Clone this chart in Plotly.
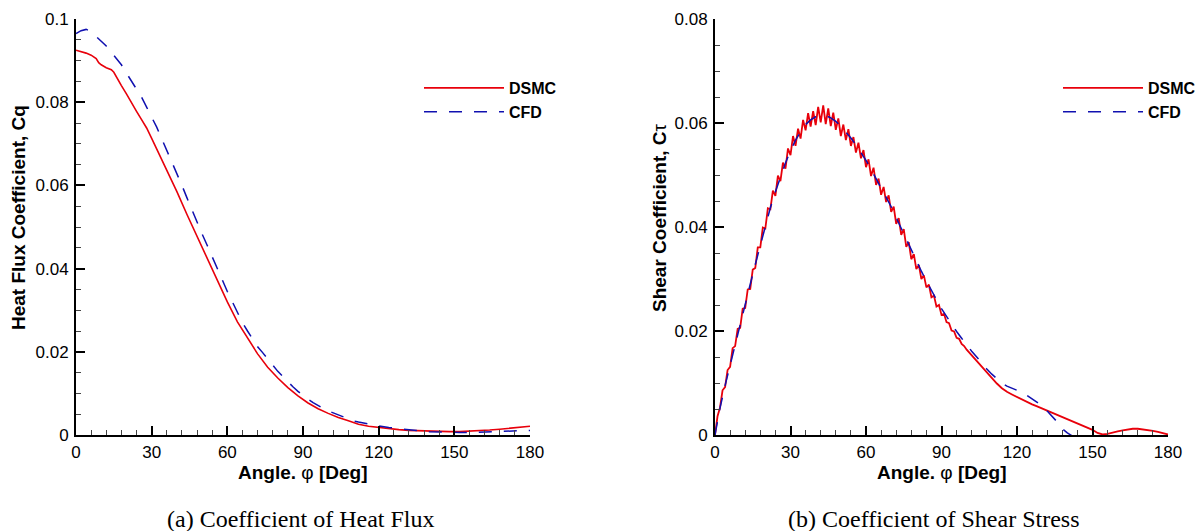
import plotly.graph_objects as go

# ---------------- Data: heat flux (left) ----------------
hf_dsmc_angle = [0, 2, 4, 6, 8, 9, 10, 12, 14, 15, 16, 18, 20, 22, 24, 26, 28, 30, 32, 34,
                 36, 40, 44, 48, 52, 56, 60, 64, 68, 72, 76, 80, 84, 88, 92, 96, 100, 104,
                 108, 112, 116, 120, 124, 128, 132, 136, 140, 144, 148, 152, 156, 160, 164,
                 168, 172, 176, 180]
hf_dsmc = [0.0925, 0.0922, 0.0918, 0.0913, 0.0905, 0.0895, 0.0890, 0.0883, 0.0878, 0.0872,
           0.0860, 0.0840, 0.0820, 0.0798, 0.0778, 0.0758, 0.0738, 0.0713, 0.0688, 0.0663,
           0.0637, 0.0585, 0.0530, 0.0478, 0.0425, 0.0370, 0.0320, 0.0272, 0.0232, 0.0195,
           0.0163, 0.0137, 0.0114, 0.0094, 0.0077, 0.0063, 0.0052, 0.0042, 0.0034, 0.0026,
           0.0021, 0.0018, 0.0015, 0.0013, 0.0011, 0.0010, 0.0009, 0.0009, 0.0008, 0.0008,
           0.0009, 0.0010, 0.0012, 0.0014, 0.0016, 0.0018, 0.0021]

hf_cfd_angle = [0, 2, 4, 6, 8, 10, 12, 14, 16, 18, 20, 22, 24, 26, 28, 30, 32, 34, 36, 38,
                40, 42, 44, 46, 48, 50, 52, 54, 56, 58, 60, 62, 64, 66, 68, 70, 72, 74, 76,
                78, 80, 82, 84, 86, 88, 90, 92, 94, 96, 98, 100, 102, 104, 106, 108, 110,
                112, 116, 120, 124, 128, 132, 136, 140, 144, 148, 152, 156, 160, 164, 168,
                172, 176, 180]
hf_cfd = [0.0965, 0.0972, 0.0975, 0.0970, 0.0958, 0.0946, 0.0935, 0.0920, 0.0905, 0.0890,
          0.0870, 0.0850, 0.0830, 0.0812, 0.0788, 0.0765, 0.0740, 0.0712, 0.0685, 0.0657,
          0.0630, 0.0600, 0.0570, 0.0540, 0.0512, 0.0483, 0.0456, 0.0428, 0.0398, 0.0371,
          0.0345, 0.0320, 0.0295, 0.0270, 0.0250, 0.0230, 0.0212, 0.0198, 0.0182, 0.0168,
          0.0153, 0.0140, 0.0128, 0.0116, 0.0105, 0.0095, 0.0086, 0.0078, 0.0070, 0.0064,
          0.0058, 0.0053, 0.0048, 0.0043, 0.0038, 0.0034, 0.0031, 0.0026, 0.0022, 0.0018,
          0.0015, 0.0012, 0.0010, 0.0008, 0.0007, 0.0006, 0.0006, 0.0006, 0.0007, 0.0007,
          0.0008, 0.0009, 0.0010, 0.0011]

# ---------------- Data: shear stress (right) ----------------
ss_dsmc_angle = list(range(0, 101)) + [102, 104, 106, 108, 110, 112, 114, 116, 118, 120,
                                       122, 124, 126, 128, 130, 132, 134, 136, 138, 140,
                                       142, 144, 146, 148, 150, 152, 154, 156, 158, 160,
                                       162, 164, 166, 168, 170, 172, 174, 176, 178, 180]
ss_dsmc = [0.0000, 0.0036, 0.0053, 0.0086, 0.0092, 0.0125, 0.0131, 0.0167, 0.0171, 0.0204,
           0.0206, 0.0243, 0.0244, 0.0280, 0.0281, 0.0318, 0.0321, 0.0361, 0.0361, 0.0399,
           0.0397, 0.0436, 0.0434, 0.0470, 0.0460, 0.0499, 0.0488, 0.0524, 0.0512, 0.0551,
           0.0538, 0.0575, 0.0556, 0.0589, 0.0570, 0.0606, 0.0586, 0.0619, 0.0593, 0.0623,
           0.0596, 0.0631, 0.0601, 0.0634, 0.0598, 0.0628, 0.0594, 0.0620, 0.0587, 0.0609,
           0.0575, 0.0597, 0.0567, 0.0588, 0.0556, 0.0573, 0.0543, 0.0562, 0.0532, 0.0548,
           0.0515, 0.0530, 0.0498, 0.0514, 0.0481, 0.0493, 0.0462, 0.0477, 0.0448, 0.0461,
           0.0429, 0.0439, 0.0406, 0.0417, 0.0385, 0.0396, 0.0362, 0.0371, 0.0338, 0.0348,
           0.0319, 0.0327, 0.0300, 0.0307, 0.0284, 0.0289, 0.0265, 0.0268, 0.0247, 0.0250,
           0.0231, 0.0233, 0.0217, 0.0215, 0.0201, 0.0199, 0.0187, 0.0185, 0.0175, 0.0171,
           0.0164,
           0.0153, 0.0143, 0.0132, 0.0121, 0.0110, 0.0099, 0.0090, 0.0083, 0.0078, 0.0073,
           0.0068, 0.0063, 0.0059, 0.0055, 0.0051, 0.0046, 0.0042, 0.0038, 0.0035, 0.0031,
           0.0027, 0.0023, 0.0019, 0.0014, 0.0010, 0.0004, 0.0001, 0.0002, 0.0005, 0.0007,
           0.0009, 0.0011, 0.0012, 0.0012, 0.0011, 0.0010, 0.0008, 0.0006, 0.0003, 0.0001]

ss_cfd_angle = [0, 2, 4, 6, 8, 10, 12, 14, 16, 18, 20, 22, 24, 26, 28, 30, 32, 34, 36, 38,
                40, 42, 44, 46, 48, 50, 52, 54, 56, 58, 60, 62, 64, 66, 68, 70, 72, 74, 76,
                78, 80, 82, 84, 86, 88, 90, 92, 94, 96, 98, 100, 102, 104, 106, 108, 110,
                112, 114, 116, 118, 120, 122, 124, 126, 128, 130, 132, 134, 136, 138, 140,
                142]
ss_cfd = [0.0000, 0.0052, 0.0095, 0.0135, 0.0176, 0.0215, 0.0253, 0.0290, 0.0328, 0.0366,
          0.0403, 0.0437, 0.0468, 0.0497, 0.0523, 0.0547, 0.0567, 0.0583, 0.0597, 0.0606,
          0.0612, 0.0615, 0.0614, 0.0610, 0.0603, 0.0594, 0.0583, 0.0571, 0.0558, 0.0544,
          0.0528, 0.0511, 0.0493, 0.0475, 0.0457, 0.0439, 0.0418, 0.0397, 0.0376, 0.0355,
          0.0335, 0.0315, 0.0296, 0.0278, 0.0260, 0.0243, 0.0228, 0.0213, 0.0199, 0.0186,
          0.0173, 0.0161, 0.0150, 0.0138, 0.0127, 0.0117, 0.0108, 0.0100, 0.0094, 0.0090,
          0.0087, 0.0082, 0.0076, 0.0069, 0.0062, 0.0056, 0.0046, 0.0036, 0.0025, 0.0012,
          0.0004, -0.0002]

x_ticks = [0, 30, 60, 90, 120, 150, 180]
series_names = ["DSMC", "CFD"]
captions = ["(a) Coefficient of Heat Flux", "(b) Coefficient of Shear Stress"]
x_title = "<b>Angle. </b>φ<b> [Deg]</b>"
y_titles = ["<b>Heat Flux Coefficient, Cq</b>", "<b>Shear Coefficient, C</b>τ"]

RED = "#e8000b"
BLUE = "#1010b0"
SANS = "Liberation Sans, Arial, Helvetica, sans-serif"
SERIF = "Liberation Serif, Times New Roman, serif"
W, H = 1201, 531

fig = go.Figure()
fig.add_trace(go.Scatter(x=hf_dsmc_angle, y=hf_dsmc, mode="lines", name=series_names[0],
                         line=dict(color=RED, width=1.6), xaxis="x", yaxis="y", legend="legend"))
fig.add_trace(go.Scatter(x=hf_cfd_angle, y=hf_cfd, mode="lines", name=series_names[1],
                         line=dict(color=BLUE, width=1.5, dash="13px,12px"),
                         xaxis="x", yaxis="y", legend="legend"))
fig.add_trace(go.Scatter(x=ss_dsmc_angle, y=ss_dsmc, mode="lines", name=series_names[0],
                         line=dict(color=RED, width=1.8), xaxis="x2", yaxis="y2", legend="legend2"))
fig.add_trace(go.Scatter(x=ss_cfd_angle, y=ss_cfd, mode="lines", name=series_names[1],
                         line=dict(color=BLUE, width=1.5, dash="13px,12px"),
                         xaxis="x2", yaxis="y2", legend="legend2"))

def px_x(p):
    return p / W

def px_y(p):
    return 1 - p / H

axis_common = dict(showgrid=False, zeroline=False, showline=True, linecolor="black",
                   linewidth=2, ticks="inside", ticklen=9, tickwidth=1.5, tickcolor="black",
                   automargin=False,
                   tickfont=dict(family=SANS, size=17, color="black"))
minor_style = dict(ticks="inside", ticklen=5, tickwidth=1, tickcolor="#444")

ydom = [px_y(435), px_y(19)]
fig.update_layout(
    width=W, height=H,
    margin=dict(l=0, r=0, t=0, b=0, pad=0, autoexpand=False),
    paper_bgcolor="white", plot_bgcolor="white",
    xaxis=dict(domain=[px_x(76), px_x(530)], range=[0, 180], tickvals=x_ticks,
               anchor="y", ticklabelstandoff=1,
               minor=dict(dtick=6, **minor_style), **axis_common),
    yaxis=dict(domain=ydom, range=[0, 0.1], dtick=0.02, anchor="x", ticklabelstandoff=2,
               minor=dict(dtick=0.005, **minor_style), **axis_common),
    xaxis2=dict(domain=[px_x(715), px_x(1168)], range=[0, 180], tickvals=x_ticks,
                anchor="y2", ticklabelstandoff=1,
                minor=dict(dtick=6, **minor_style), **axis_common),
    yaxis2=dict(domain=ydom, range=[0, 0.08], dtick=0.02, anchor="x2", ticklabelstandoff=2,
                minor=dict(dtick=0.005, **minor_style), **axis_common),
    legend=dict(x=px_x(419), y=px_y(71), xanchor="left", yanchor="top",
                bgcolor="rgba(0,0,0,0)", itemwidth=80, tracegroupgap=0,
                font=dict(family=SANS, size=16, color="black", weight="bold")),
    legend2=dict(x=px_x(1058), y=px_y(71), xanchor="left", yanchor="top",
                 bgcolor="rgba(0,0,0,0)", itemwidth=80, tracegroupgap=0,
                 font=dict(family=SANS, size=16, color="black", weight="bold")),
    showlegend=True,
)

annotations = []
for cx, title in [(303, x_title), (942, x_title)]:
    annotations.append(dict(x=px_x(cx), y=px_y(472), xref="paper", yref="paper",
                            text=title, showarrow=False, xanchor="center", yanchor="middle",
                            font=dict(family=SANS, size=19, color="black")))
for cx, title in [(18, y_titles[0]), (659, y_titles[1])]:
    annotations.append(dict(x=px_x(cx), y=px_y(218), xref="paper", yref="paper",
                            text=title, showarrow=False, textangle=-90,
                            xanchor="center", yanchor="middle",
                            font=dict(family=SANS, size=19, color="black")))
for cx, cap in [(300, captions[0]), (934, captions[1])]:
    annotations.append(dict(x=px_x(cx), y=px_y(519), xref="paper", yref="paper",
                            text=cap, showarrow=False, xanchor="center", yanchor="middle",
                            font=dict(family=SERIF, size=24, color="black")))
fig.update_layout(annotations=annotations)

fig.write_html("out.html")
